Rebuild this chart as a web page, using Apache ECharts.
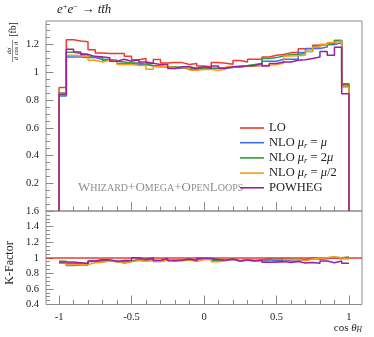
<!DOCTYPE html>
<html><head><meta charset="utf-8">
<script src="https://cdn.jsdelivr.net/npm/echarts@6/dist/echarts.min.js"></script>
<style>html,body{margin:0;padding:0;background:#fff}#c{width:374px;height:337px}</style>
</head><body><div id="c"></div>
<script>
// bin edges of the cos(theta_H) histogram
const binEdges = [-1,-0.95,-0.9,-0.85,-0.8,-0.75,-0.7,-0.65,-0.6,-0.55,-0.5,-0.45,-0.4,-0.35,-0.3,-0.25,-0.2,-0.15,-0.1,-0.05,0,0.05,0.1,0.15,0.2,0.25,0.3,0.35,0.4,0.45,0.5,0.55,0.6,0.65,0.7,0.75,0.8,0.85,0.9,0.95,1];
const seriesNames = ['LO','NLO mu','NLO 2mu','NLO mu/2','POWHEG'];
// dσ/dcosθ [fb]
const lo = [0.89,1.235,1.225,1.22,1.163,1.14,1.135,1.135,1.135,1.115,1.09,1.1,1.065,1.092,1.067,1.07,1.07,1.056,1.063,1.046,1.04,1.07,1.065,1.058,1.085,1.075,1.094,1.094,1.11,1.123,1.128,1.142,1.142,1.17,1.17,1.195,1.2,1.2,1.23,0.91];
const nloMu = [0.83,1.11,1.11,1.106,1.106,1.092,1.092,1.087,1.063,1.063,1.058,1.058,1.046,1.04,1.04,1.027,1.03,1.03,1.03,1.03,1.027,1.03,1.03,1.035,1.04,1.045,1.045,1.05,1.08,1.08,1.094,1.094,1.094,1.142,1.171,1.171,1.183,1.2,1.214,0.9];
const nlo2Mu = [0.85,1.145,1.135,1.13,1.11,1.11,1.087,1.08,1.074,1.067,1.067,1.056,1.05,1.045,1.04,1.04,1.035,1.022,1.022,1.03,1.03,1.03,1.032,1.04,1.045,1.05,1.056,1.063,1.1,1.106,1.118,1.128,1.128,1.135,1.15,1.183,1.2,1.207,1.23,0.918];
const nloHalfMu = [0.84,1.123,1.12,1.115,1.087,1.074,1.087,1.08,1.056,1.056,1.05,1.05,1.022,1.04,1.04,1.035,1.035,1.03,1.014,1.02,1.02,1.015,1.022,1.04,1.04,1.046,1.046,1.05,1.05,1.056,1.065,1.118,1.12,1.123,1.152,1.183,1.2,1.215,1.225,0.895];
const powheg = [0.84,1.166,1.147,1.128,1.115,1.11,1.105,1.08,1.094,1.08,1.09,1.074,1.065,1.056,1.056,1.027,1.04,1.04,1.027,1.04,1.03,1.045,1.03,1.04,1.04,1.045,1.05,1.063,1.045,1.063,1.074,1.074,1.087,1.09,1.1,1.11,1.15,1.123,1.18,0.846];
// K-factors (ratio to LO)
const kLo = 1;
const kMu = [0.933,0.899,0.906,0.907,0.951,0.958,0.962,0.958,0.937,0.953,0.971,0.962,0.982,0.952,0.975,0.96,0.963,0.975,0.969,0.985,0.988,0.963,0.967,0.978,0.959,0.972,0.955,0.96,0.973,0.962,0.97,0.958,0.958,0.976,1.0,0.98,0.986,1.0,0.987,0.989];
const k2Mu = [0.955,0.927,0.927,0.926,0.954,0.974,0.958,0.952,0.946,0.957,0.979,0.96,0.986,0.957,0.975,0.972,0.967,0.968,0.961,0.985,0.99,0.963,0.969,0.983,0.963,0.977,0.965,0.972,0.991,0.985,0.991,0.988,0.988,0.97,0.983,0.99,1.0,1.006,1.0,1.009];
const kHalfMu = [0.944,0.909,0.914,0.914,0.935,0.942,0.958,0.952,0.93,0.947,0.963,0.955,0.96,0.952,0.975,0.967,0.967,0.975,0.954,0.975,0.981,0.949,0.96,0.983,0.959,0.973,0.956,0.96,0.946,0.94,0.944,0.979,0.981,0.96,0.985,0.99,1.0,1.012,0.996,0.984];
const kPowheg = [0.944,0.944,0.936,0.925,0.959,0.974,0.974,0.952,0.964,0.969,1.0,0.976,1.0,0.967,0.99,0.96,0.972,0.985,0.966,0.994,0.99,0.977,0.967,0.983,0.959,0.972,0.96,0.972,0.941,0.947,0.952,0.94,0.952,0.932,0.94,0.929,0.958,0.936,0.959,0.93];
// tick labels
const xTicks = [-1,-0.5,0,0.5,1];
const xMinor = [-1,-0.9,-0.8,-0.7,-0.6,-0.5,-0.4,-0.3,-0.2,-0.1,0,0.1,0.2,0.3,0.4,0.5,0.6,0.7,0.8,0.9,1];
const yTopTicks = [0.2,0.4,0.6,0.8,1,1.2];
const yTopMinor = [0.05,0.1,0.15,0.2,0.25,0.3,0.35,0.4,0.45,0.5,0.55,0.6,0.65,0.7,0.75,0.8,0.85,0.9,0.95,1,1.05,1.1,1.15,1.2,1.25,1.3,1.35];
const yBotTicks = [0.4,0.6,0.8,1,1.2,1.4,1.6];
const yBotMinor = [0.45,0.5,0.55,0.6,0.65,0.7,0.75,0.8,0.85,0.9,0.95,1,1.05,1.1,1.15,1.2,1.25,1.3,1.35,1.4,1.45,1.5,1.55];

const colors = ['#ee3b2b','#3f6ff0','#2e9c3a','#ff9a12','#9b1fa3'];
const FONT = 'Liberation Serif';

function histPts(v){
  const p=[[binEdges[0],0]];
  for(let i=0;i<v.length;i++) p.push([binEdges[i],v[i]]);
  p.push([binEdges[binEdges.length-1],v[v.length-1]]);
  p.push([binEdges[binEdges.length-1],0]);
  return p;
}
function ratioPts(v){
  const p=[];
  for(let i=0;i<v.length;i++) p.push([binEdges[i],v[i]]);
  p.push([binEdges[binEdges.length-1],v[v.length-1]]);
  return p;
}
const tickCol = '#8a8a8a';
function xAx(grid, vals, len, labels){
  return {type:'value', gridIndex:grid, position:'bottom', min:-1.09, max:1.09,
    axisLine:{show:false, onZero:false}, splitLine:{show:false},
    axisTick:{show:true, inside:true, length:len, customValues:vals, lineStyle:{color:tickCol,width:1}},
    axisLabel:{show:labels, customValues:vals, margin:7, fontFamily:FONT, fontSize:10.5, color:'#222'}};
}
function yAx(grid, min, max, vals, len, labels){
  return {type:'value', gridIndex:grid, position:'left', min:min, max:max,
    axisLine:{show:false, onZero:false}, splitLine:{show:false},
    axisTick:{show:true, inside:true, length:len, customValues:vals, lineStyle:{color:tickCol,width:1}},
    axisLabel:{show:labels, customValues:vals, margin:7, fontFamily:FONT, fontSize:10.5, color:'#222'}};
}
const upperData = [lo,nloMu,nlo2Mu,nloHalfMu,powheg];
const lowerData = [null,kMu,k2Mu,kHalfMu,kPowheg];
const series = [];
upperData.forEach((d,i)=>{
  series.push({name:seriesNames[i], type:'line', xAxisIndex:0, yAxisIndex:0, step:'end', symbol:'none',
    data:histPts(d), lineStyle:{color:colors[i], width:1.5}, itemStyle:{color:colors[i]}, z:2+i});
});
lowerData.forEach((d,i)=>{
  if(!d) return;
  series.push({name:seriesNames[i], type:'line', xAxisIndex:2, yAxisIndex:2, step:'end', symbol:'none',
    data:ratioPts(d), lineStyle:{color:colors[i], width:1.5}, itemStyle:{color:colors[i]}, z:2+i});
});
// LO reference in the ratio panel
series.push({name:'LO', type:'line', xAxisIndex:2, yAxisIndex:2, symbol:'none', data:[],
  markLine:{silent:true, symbol:'none', label:{show:false}, lineStyle:{color:colors[0], type:'solid', width:1.6},
    data:[{yAxis:kLo}]}, z:10});

const legendText = {
  'LO':'{n|LO}',
  'NLO mu':'{n|NLO }{m|μ}{s|r}{n| = }{m|μ}',
  'NLO 2mu':'{n|NLO }{m|μ}{s|r}{n| = 2}{m|μ}',
  'NLO mu/2':'{n|NLO }{m|μ}{s|r}{n| = }{m|μ}{n|/2}',
  'POWHEG':'{n|POWHEG}'
};
const rich = {
  n:{fontFamily:FONT,fontSize:12.5,color:'#222',lineHeight:14},
  m:{fontFamily:FONT,fontSize:12.5,fontStyle:'italic',color:'#222',lineHeight:14},
  s:{fontFamily:FONT,fontSize:8.5,fontStyle:'italic',color:'#222',lineHeight:14,padding:[6,0,0,0]}
};

const option = {
  animation:false,
  backgroundColor:'#fff',
  grid:[
    {left:46, top:21, width:316, height:190, show:true, borderColor:'#8c8c8c', borderWidth:1, backgroundColor:'transparent'},
    {left:46, top:211, width:316, height:93.5, show:true, borderColor:'#8c8c8c', borderWidth:1, backgroundColor:'transparent'}
  ],
  xAxis:[ xAx(0,xTicks,9,false), xAx(0,xMinor,4.5,false), xAx(1,xTicks,9,true), xAx(1,xMinor,4.5,false) ],
  yAxis:[ yAx(0,0,1.37,yTopTicks,7.5,true), yAx(0,0,1.37,yTopMinor,4,false),
          yAx(1,0.4,1.6,yBotTicks,7.5,true), yAx(1,0.4,1.6,yBotMinor,4,false) ],
  legend:{orient:'vertical', left:235, top:116, itemWidth:24, itemHeight:1.6, itemGap:0.2, icon:'rect',
    data:seriesNames, selectedMode:false,
    formatter:(n)=>legendText[n], textStyle:{fontFamily:FONT,fontSize:12.5,color:'#222',lineHeight:14,rich:rich}},
  graphic:[
    {type:'text', left:57, top:2, style:{text:'{i|e}{p|+}{i|e}{p|−}{n| → }{i|tt̄h}', rich:{
      i:{fontFamily:FONT,fontSize:13,fontStyle:'italic',fill:'#222'},
      n:{fontFamily:FONT,fontSize:13,fill:'#222'},
      p:{fontFamily:FONT,fontSize:8.5,fill:'#222',padding:[0,0,7,0]}}}},
    {type:'group', x:12.5, y:43, rotation:Math.PI/2, children:[
      {type:'text', x:-8, y:-3.2, style:{text:'dσ', font:'italic 6.5px "Liberation Serif"', fill:'#222', align:'center', verticalAlign:'middle'}},
      {type:'line', shape:{x1:-19, y1:0, x2:3, y2:0}, style:{stroke:'#222', lineWidth:0.5}},
      {type:'text', x:-8, y:3.6, style:{text:'d cos θ', font:'italic 6.5px "Liberation Serif"', fill:'#222', align:'center', verticalAlign:'middle'}},
      {type:'text', x:13.5, y:0.5, style:{text:'[fb]', font:'9.5px "Liberation Serif"', fill:'#222', align:'center', verticalAlign:'middle'}}
    ]},
    {type:'text', x:10, y:263, rotation:Math.PI/2, style:{text:'K-Factor', font:'12px "Liberation Serif"', fill:'#222', align:'center', verticalAlign:'middle'}},
    {type:'text', x:362, y:328, style:{text:'{n|cos }{i|θ}{s|H}', align:'right', verticalAlign:'middle', rich:{
      n:{fontFamily:FONT,fontSize:11,fill:'#222'},
      i:{fontFamily:FONT,fontSize:11,fontStyle:'italic',fill:'#222'},
      s:{fontFamily:FONT,fontSize:7.5,fontStyle:'italic',fill:'#222',padding:[5,0,0,0]}}}},
    {type:'text', x:78, y:188, style:{text:'{b|W}{c|HIZARD}{b|+O}{c|MEGA}{b|+O}{c|PEN}{b|L}{c|OOPS}', verticalAlign:'middle', rich:{
      b:{fontFamily:FONT,fontSize:13,fill:'#8e8e8e'},
      c:{fontFamily:FONT,fontSize:10,fill:'#8e8e8e'}}}}
  ],
  series:series
};
const chart = echarts.init(document.getElementById('c'), null, {renderer:'canvas'});
chart.setOption(option);
</script>
</body></html>
